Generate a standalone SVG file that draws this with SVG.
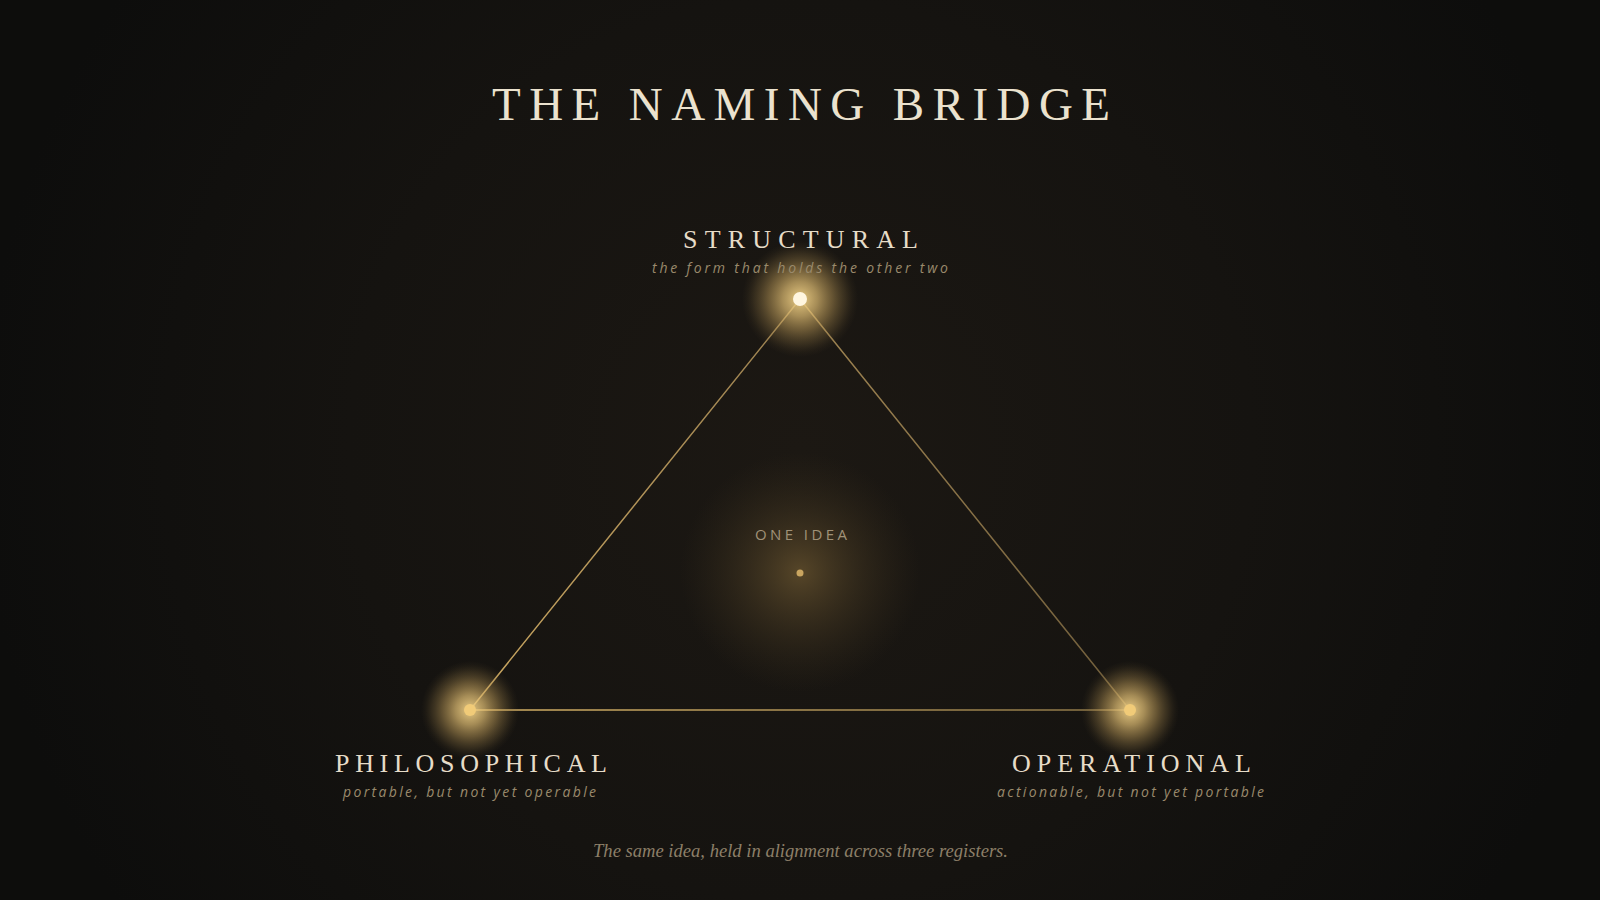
<svg xmlns="http://www.w3.org/2000/svg" width="1600" height="900" viewBox="0 0 1600 900">
  <defs>
    <radialGradient id="bg" cx="800" cy="450" r="820" gradientUnits="userSpaceOnUse">
      <stop offset="0" stop-color="#1c1813"/>
      <stop offset="0.55" stop-color="#151310"/>
      <stop offset="1" stop-color="#0d0d0c"/>
    </radialGradient>
    <radialGradient id="centerGlow">
      <stop offset="0" stop-color="#6b5630" stop-opacity="0.75"/>
      <stop offset="0.5" stop-color="#4e3f25" stop-opacity="0.4"/>
      <stop offset="1" stop-color="#3a2f1c" stop-opacity="0"/>
    </radialGradient>
    <radialGradient id="nodeGlow">
      <stop offset="0" stop-color="#f3d48a" stop-opacity="0.95"/>
      <stop offset="0.3" stop-color="#e2bf74" stop-opacity="0.7"/>
      <stop offset="0.55" stop-color="#c9a55e" stop-opacity="0.45"/>
      <stop offset="0.78" stop-color="#a2844a" stop-opacity="0.22"/>
      <stop offset="0.92" stop-color="#7f6739" stop-opacity="0.07"/>
      <stop offset="1" stop-color="#7a6236" stop-opacity="0"/>
    </radialGradient>
    <linearGradient id="gLeft" x1="470" y1="710" x2="800" y2="299" gradientUnits="userSpaceOnUse">
      <stop offset="0" stop-color="#c9a660"/>
      <stop offset="1" stop-color="#9a8050"/>
    </linearGradient>
    <linearGradient id="gRight" x1="800" y1="299" x2="1130" y2="710" gradientUnits="userSpaceOnUse">
      <stop offset="0" stop-color="#a08552"/>
      <stop offset="1" stop-color="#6e5c3a"/>
    </linearGradient>
    <linearGradient id="gBase" x1="470" y1="710" x2="1130" y2="710" gradientUnits="userSpaceOnUse">
      <stop offset="0" stop-color="#d6b266"/>
      <stop offset="1" stop-color="#8a7446"/>
    </linearGradient>
  </defs>
  <style>
    .title { font-family: "Liberation Serif", "DejaVu Serif", serif; font-size: 47px; fill: #ebe2ce; }
    .label { font-family: "Liberation Serif", "DejaVu Serif", serif; font-size: 26px; fill: #e6dcc8; }
    .sub { font-family: "Open Sans", "Liberation Sans", sans-serif; font-style: italic; font-size: 14px; fill: #9a8a6c; }
    .core { font-family: "Open Sans", "Liberation Sans", sans-serif; font-size: 15px; fill: #a09278; }
    .caption { font-family: "Liberation Serif", "DejaVu Serif", serif; font-style: italic; font-size: 19px; fill: #8c7f68; }
    .edge { fill: none; stroke-width: 1.5; stroke-linecap: round; }
  </style>

  <rect x="0" y="0" width="1600" height="900" fill="url(#bg)"/>

  <text class="title" x="492" y="120" textLength="618" lengthAdjust="spacing">THE NAMING BRIDGE</text>

  <g id="center">
    <circle cx="800" cy="572" r="120" fill="url(#centerGlow)"/>
    <text class="core" x="755" y="540" textLength="92" lengthAdjust="spacing">ONE IDEA</text>
    <circle cx="800" cy="573" r="3.5" fill="#c9a560"/>
  </g>

  <g id="connectors">
    <line class="edge" x1="470" y1="710" x2="800" y2="299" stroke="url(#gLeft)"/>
    <line class="edge" x1="800" y1="299" x2="1130" y2="710" stroke="url(#gRight)"/>
    <line class="edge" x1="470" y1="710" x2="1130" y2="710" stroke="url(#gBase)"/>
  </g>

  <g id="structural">
    <circle cx="800" cy="299" r="58" fill="url(#nodeGlow)"/>
    <circle cx="800" cy="299" r="7" fill="#fff6e0"/>
    <text class="label" x="683" y="248" textLength="235" lengthAdjust="spacing">STRUCTURAL</text>
    <text class="sub" x="652" y="273" textLength="296" lengthAdjust="spacing">the form that holds the other two</text>
  </g>

  <g id="philosophical">
    <circle cx="470" cy="710" r="49" fill="url(#nodeGlow)"/>
    <circle cx="470" cy="710" r="6" fill="#f1cb78"/>
    <text class="label" x="335" y="772" textLength="272" lengthAdjust="spacing">PHILOSOPHICAL</text>
    <text class="sub" x="343" y="797" textLength="253" lengthAdjust="spacing">portable, but not yet operable</text>
  </g>

  <g id="operational">
    <circle cx="1130" cy="710" r="49" fill="url(#nodeGlow)"/>
    <circle cx="1130" cy="710" r="6" fill="#f1cb78"/>
    <text class="label" x="1012" y="772" textLength="239" lengthAdjust="spacing">OPERATIONAL</text>
    <text class="sub" x="997" y="797" textLength="267" lengthAdjust="spacing">actionable, but not yet portable</text>
  </g>

  <text class="caption" x="593" y="857" textLength="415" lengthAdjust="spacingAndGlyphs">The same idea, held in alignment across three registers.</text>
</svg>
